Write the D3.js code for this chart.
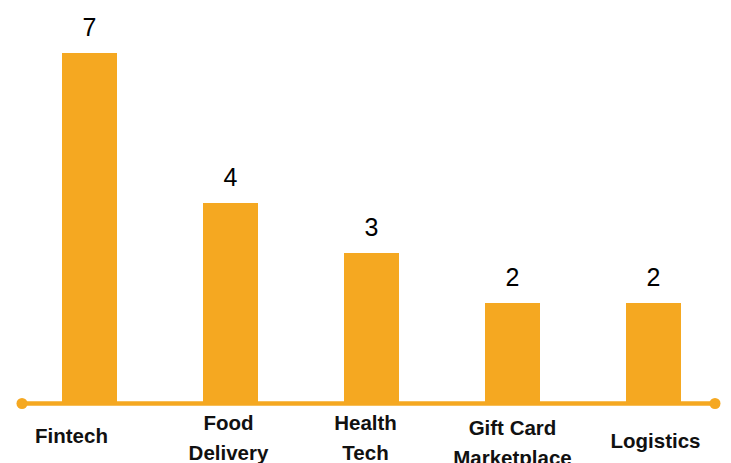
<!DOCTYPE html>
<html>
<head>
<meta charset="utf-8">
<script src="https://cdn.jsdelivr.net/npm/d3@7"></script>
<style>
  body { margin: 0; background: #fff; }
  svg { display: block; }
</style>
</head>
<body>
<svg id="chart"></svg>
<script>
var categories = ["Fintech", "Food Delivery", "Health Tech", "Gift Card Marketplace", "Logistics"]
var counts = [7, 4, 3, 2, 2]

var width = 731
var height = 463
var barColor = "#F5A821"
var baseY = 403

var svg = d3.select("#chart").attr("width", width).attr("height", height)

var x = d3.scaleBand()
    .domain(categories)
    .range([19, 724])
    .paddingInner(86 / 141)
    .paddingOuter(43 / 141)

var y = d3.scaleLinear().domain([0, 7]).range([baseY, 53])

// bars
svg.selectAll("rect.bar")
    .data(categories).enter().append("rect")
    .attr("class", "bar")
    .attr("x", function(d) { return x(d) })
    .attr("y", function(d, i) { return y(counts[i]) })
    .attr("width", x.bandwidth())
    .attr("height", function(d, i) { return baseY - y(counts[i]) })
    .attr("fill", barColor)

// value labels
svg.selectAll("text.value")
    .data(categories).enter().append("text")
    .attr("class", "value")
    .attr("x", function(d) { return x(d) + x.bandwidth() / 2 })
    .attr("y", function(d, i) { return y(counts[i]) - 17 })
    .attr("text-anchor", "middle")
    .style("font-family", "Liberation Sans, Arial, sans-serif")
    .style("font-size", "25px")
    .style("fill", "#000")
    .text(function(d, i) { return counts[i] })

// baseline with end dots
var axisG = svg.append("g")
axisG.append("line")
    .attr("x1", 22).attr("x2", 715)
    .attr("y1", baseY + 0.5).attr("y2", baseY + 0.5)
    .attr("stroke", barColor)
    .attr("stroke-width", 4.5)
axisG.selectAll("circle")
    .data([22, 715]).enter().append("circle")
    .attr("cx", function(d) { return d })
    .attr("cy", baseY + 0.5)
    .attr("r", 5.5)
    .attr("fill", barColor)

// category labels, wrapped to two lines when long
function splitLabel(s) {
    var words = s.split(" ")
    if (words.length < 2) return [s]
    if (words.length === 2) return words
    return [words.slice(0, words.length - 1).join(" "), words[words.length - 1]]
}

// small per-label nudges to follow the original layout
var labelNudgeX = [-18, -2, -6, 0, 2]
var labelMidY = [436, 438, 438, 443, 441]
var lineH = 30

svg.selectAll("text.cat")
    .data(categories).enter().append("text")
    .attr("class", "cat")
    .attr("text-anchor", "middle")
    .style("font-family", "Liberation Sans, Arial, sans-serif")
    .style("font-size", "20.5px")
    .style("font-weight", "bold")
    .style("fill", "#111")
    .each(function(d, i) {
        var lines = splitLabel(d)
        var cx = x(d) + x.bandwidth() / 2 + labelNudgeX[i]
        var top = labelMidY[i] - (lines.length - 1) * lineH / 2
        var t = d3.select(this)
        lines.forEach(function(l, k) {
            t.append("tspan")
                .attr("x", cx)
                .attr("y", top + k * lineH + 7)
                .text(l)
        })
    })
</script>
</body>
</html>
